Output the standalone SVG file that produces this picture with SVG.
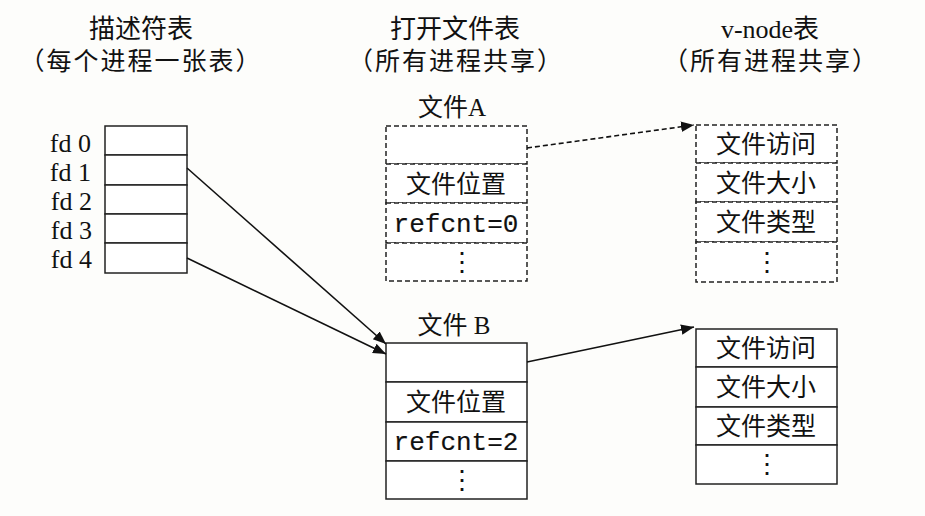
<svg xmlns="http://www.w3.org/2000/svg" width="925" height="516" viewBox="0 0 925 516">
<defs>
<marker id="ah2" viewBox="0 0 10 10" refX="10" refY="5" markerWidth="13" markerHeight="13" markerUnits="userSpaceOnUse" orient="auto">
<path d="M0,1 L10,5 L0,9 z" fill="#111"/>
</marker>
</defs>
<style>
.cell{fill:#fff;stroke:#222;stroke-width:1.5}
.dash{fill:#fff;stroke:#222;stroke-width:1.5;stroke-dasharray:5,3}
.hd{font-family:"Liberation Serif","Noto Sans CJK SC",serif;font-size:26px;fill:#111;text-anchor:middle}
.sub{font-family:"Liberation Serif","Noto Sans CJK SC",serif;font-size:25px;letter-spacing:2px;fill:#111;text-anchor:middle}
.lbl{font-family:"Liberation Serif","Noto Sans CJK SC",serif;font-size:25px;fill:#111;text-anchor:middle}
.cj{font-family:"Noto Sans CJK SC",sans-serif;font-size:25px;fill:#111;text-anchor:middle}
.mono{font-family:"Liberation Mono",monospace;font-size:26px;fill:#111;stroke:#111;stroke-width:0.15;text-anchor:middle}
.fd{font-family:"Liberation Serif",serif;font-size:26px;fill:#111;text-anchor:end}
.dot{font-family:"Liberation Serif",serif;font-size:26px;fill:#111;text-anchor:middle}
.ln{fill:none;stroke:#111;stroke-width:1.6}
</style>
<rect width="925" height="516" fill="#fdfdfb"/>
<g id="headers">
<text class="hd" x="141" y="38">描述符表</text>
<text class="sub" x="141" y="70">（每个进程一张表）</text>
<text class="hd" x="455" y="38">打开文件表</text>
<text class="sub" x="456" y="70">（所有进程共享）</text>
<text class="hd" x="770" y="38">v-node表</text>
<text class="sub" x="771" y="70">（所有进程共享）</text>
</g>
<g id="fdtable">
<rect class="cell" x="105" y="126" width="82" height="29"/>
<rect class="cell" x="105" y="155" width="82" height="30"/>
<rect class="cell" x="105" y="185" width="82" height="29"/>
<rect class="cell" x="105" y="214" width="82" height="29"/>
<rect class="cell" x="105" y="243" width="82" height="30"/>
<text class="fd" x="91" y="152">fd 0</text>
<text class="fd" x="91" y="181">fd 1</text>
<text class="fd" x="92" y="210">fd 2</text>
<text class="fd" x="92" y="239">fd 3</text>
<text class="fd" x="92" y="268">fd 4</text>
</g>
<g id="fileA">
<text class="lbl" x="452" y="116">文件A</text>
<rect class="dash" x="386" y="126" width="141" height="38"/>
<rect class="dash" x="386" y="164" width="141" height="39"/>
<rect class="dash" x="386" y="203" width="141" height="40"/>
<rect class="dash" x="386" y="243" width="141" height="38"/>
<text class="cj" x="456" y="193">文件位置</text>
<text class="mono" x="456" y="232">refcnt=0</text>
<text class="dot" x="462" y="271">⋮</text>
</g>
<g id="fileB">
<text class="lbl" x="454" y="334">文件 B</text>
<rect class="cell" x="386" y="343" width="141" height="39"/>
<rect class="cell" x="386" y="382" width="141" height="40"/>
<rect class="cell" x="386" y="422" width="141" height="39"/>
<rect class="cell" x="386" y="461" width="141" height="38"/>
<text class="cj" x="456" y="411">文件位置</text>
<text class="mono" x="456" y="450">refcnt=2</text>
<text class="dot" x="462" y="489">⋮</text>
</g>
<g id="vnodeA">
<rect class="dash" x="696" y="125" width="141" height="38"/>
<rect class="dash" x="696" y="163" width="141" height="39"/>
<rect class="dash" x="696" y="202" width="141" height="40"/>
<rect class="dash" x="696" y="242" width="141" height="40"/>
<text class="cj" x="766" y="153">文件访问</text>
<text class="cj" x="766" y="192">文件大小</text>
<text class="cj" x="766" y="231">文件类型</text>
<text class="dot" x="767" y="271">⋮</text>
</g>
<g id="vnodeB">
<rect class="cell" x="696" y="329" width="141" height="38"/>
<rect class="cell" x="696" y="367" width="141" height="40"/>
<rect class="cell" x="696" y="407" width="141" height="38"/>
<rect class="cell" x="696" y="445" width="141" height="39"/>
<text class="cj" x="766" y="357">文件访问</text>
<text class="cj" x="766" y="396">文件大小</text>
<text class="cj" x="766" y="435">文件类型</text>
<text class="dot" x="767" y="473">⋮</text>
</g>
<g id="connectors">
<line class="ln" x1="187" y1="168" x2="386" y2="344" marker-end="url(#ah2)"/>
<line class="ln" x1="187" y1="258" x2="386" y2="354" marker-end="url(#ah2)"/>
<line class="ln" x1="527" y1="148" x2="694" y2="125" stroke-dasharray="5,3" marker-end="url(#ah2)"/>
<line class="ln" x1="527" y1="362" x2="694" y2="327" marker-end="url(#ah2)"/>
</g>
</svg>
